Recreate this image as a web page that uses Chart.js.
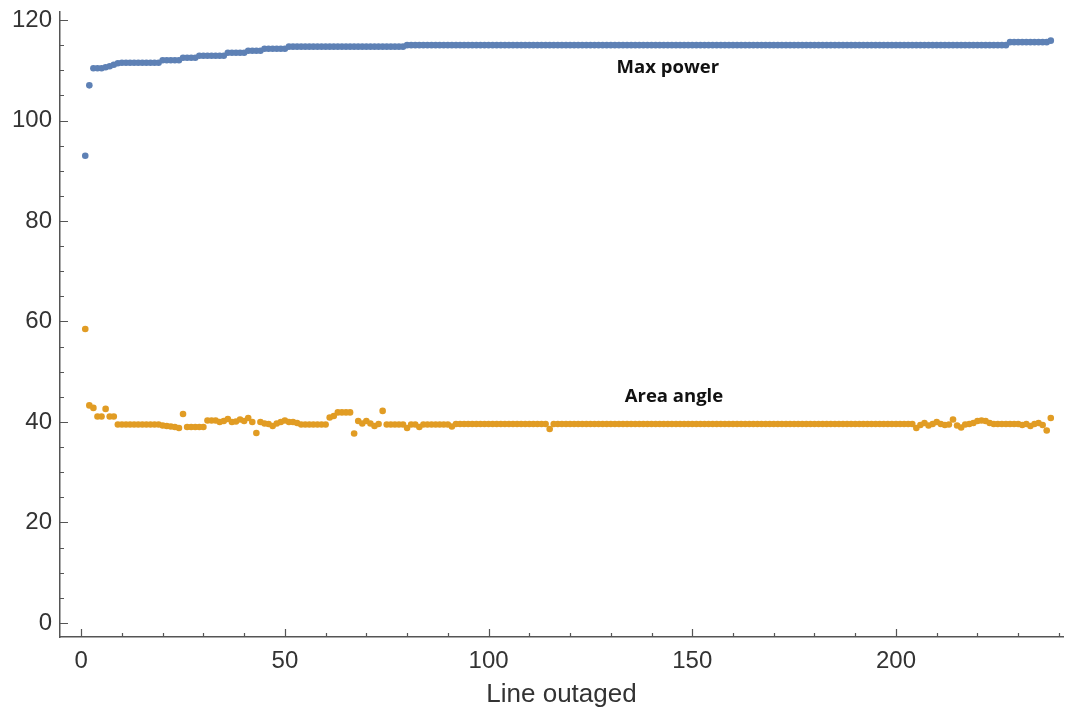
<!DOCTYPE html>
<html>
<head>
<meta charset="utf-8">
<script src="https://cdn.jsdelivr.net/npm/chart.js@4.4.1/dist/chart.umd.min.js"></script>
<style>
  html, body { margin: 0; padding: 0; background: #fff; }
  #wrap { width: 1070px; height: 714px; position: relative; }
</style>
</head>
<body>
<div id="wrap"><canvas id="outageChart" width="1070" height="714"></canvas></div>
<script>
/* ── data: one value per outaged line, x = 1..238 ── */
var maxPower = [
  93.0, 107.0, 110.4, 110.4, 110.4, 110.6, 110.8, 111.1, 111.4, 111.5,
  111.5, 111.5, 111.5, 111.5, 111.5, 111.5, 111.5, 111.5, 111.5, 112.0,
  112.0, 112.0, 112.0, 112.0, 112.5, 112.5, 112.5, 112.5, 112.9, 112.9,
  112.9, 112.9, 112.9, 112.9, 112.9, 113.5, 113.5, 113.5, 113.5, 113.5,
  113.9, 113.9, 113.9, 113.9, 114.3, 114.3, 114.3, 114.3, 114.3, 114.3,
  114.7, 114.7, 114.7, 114.7, 114.7, 114.7, 114.7, 114.7, 114.7, 114.7,
  114.7, 114.7, 114.7, 114.7, 114.7, 114.7, 114.7, 114.7, 114.7, 114.7,
  114.7, 114.7, 114.7, 114.7, 114.7, 114.7, 114.7, 114.7, 114.7, 115.0,
  115.0, 115.0, 115.0, 115.0, 115.0, 115.0, 115.0, 115.0, 115.0, 115.0,
  115.0, 115.0, 115.0, 115.0, 115.0, 115.0, 115.0, 115.0, 115.0, 115.0,
  115.0, 115.0, 115.0, 115.0, 115.0, 115.0, 115.0, 115.0, 115.0, 115.0,
  115.0, 115.0, 115.0, 115.0, 115.0, 115.0, 115.0, 115.0, 115.0, 115.0,
  115.0, 115.0, 115.0, 115.0, 115.0, 115.0, 115.0, 115.0, 115.0, 115.0,
  115.0, 115.0, 115.0, 115.0, 115.0, 115.0, 115.0, 115.0, 115.0, 115.0,
  115.0, 115.0, 115.0, 115.0, 115.0, 115.0, 115.0, 115.0, 115.0, 115.0,
  115.0, 115.0, 115.0, 115.0, 115.0, 115.0, 115.0, 115.0, 115.0, 115.0,
  115.0, 115.0, 115.0, 115.0, 115.0, 115.0, 115.0, 115.0, 115.0, 115.0,
  115.0, 115.0, 115.0, 115.0, 115.0, 115.0, 115.0, 115.0, 115.0, 115.0,
  115.0, 115.0, 115.0, 115.0, 115.0, 115.0, 115.0, 115.0, 115.0, 115.0,
  115.0, 115.0, 115.0, 115.0, 115.0, 115.0, 115.0, 115.0, 115.0, 115.0,
  115.0, 115.0, 115.0, 115.0, 115.0, 115.0, 115.0, 115.0, 115.0, 115.0,
  115.0, 115.0, 115.0, 115.0, 115.0, 115.0, 115.0, 115.0, 115.0, 115.0,
  115.0, 115.0, 115.0, 115.0, 115.0, 115.0, 115.0, 115.6, 115.6, 115.6,
  115.6, 115.6, 115.6, 115.6, 115.6, 115.6, 115.6, 115.9
];
var areaAngle = [
  58.5, 43.3, 42.8, 41.1, 41.1, 42.6, 41.1, 41.1, 39.5, 39.5,
  39.5, 39.5, 39.5, 39.5, 39.5, 39.5, 39.5, 39.5, 39.5, 39.3,
  39.2, 39.1, 39.0, 38.8, 41.6, 39.0, 39.0, 39.0, 39.0, 39.0,
  40.3, 40.3, 40.3, 40.0, 40.2, 40.6, 40.0, 40.1, 40.5, 40.2,
  40.8, 40.0, 37.8, 40.0, 39.7, 39.6, 39.2, 39.7, 40.0, 40.3,
  40.0, 40.0, 39.8, 39.5, 39.5, 39.5, 39.5, 39.5, 39.5, 39.5,
  40.9, 41.2, 41.9, 41.9, 41.9, 41.9, 37.7, 40.2, 39.7, 40.2,
  39.7, 39.2, 39.6, 42.2, 39.5, 39.5, 39.5, 39.5, 39.5, 38.8,
  39.5, 39.5, 39.0, 39.5, 39.5, 39.5, 39.5, 39.5, 39.5, 39.5,
  39.1, 39.6, 39.6, 39.6, 39.6, 39.6, 39.6, 39.6, 39.6, 39.6,
  39.6, 39.6, 39.6, 39.6, 39.6, 39.6, 39.6, 39.6, 39.6, 39.6,
  39.6, 39.6, 39.6, 39.6, 38.6, 39.6, 39.6, 39.6, 39.6, 39.6,
  39.6, 39.6, 39.6, 39.6, 39.6, 39.6, 39.6, 39.6, 39.6, 39.6,
  39.6, 39.6, 39.6, 39.6, 39.6, 39.6, 39.6, 39.6, 39.6, 39.6,
  39.6, 39.6, 39.6, 39.6, 39.6, 39.6, 39.6, 39.6, 39.6, 39.6,
  39.6, 39.6, 39.6, 39.6, 39.6, 39.6, 39.6, 39.6, 39.6, 39.6,
  39.6, 39.6, 39.6, 39.6, 39.6, 39.6, 39.6, 39.6, 39.6, 39.6,
  39.6, 39.6, 39.6, 39.6, 39.6, 39.6, 39.6, 39.6, 39.6, 39.6,
  39.6, 39.6, 39.6, 39.6, 39.6, 39.6, 39.6, 39.6, 39.6, 39.6,
  39.6, 39.6, 39.6, 39.6, 39.6, 39.6, 39.6, 39.6, 39.6, 39.6,
  39.6, 39.6, 39.6, 39.6, 38.8, 39.4, 39.8, 39.3, 39.6, 40.0,
  39.6, 39.4, 39.5, 40.5, 39.3, 38.9, 39.5, 39.6, 39.8, 40.2,
  40.3, 40.2, 39.8, 39.6, 39.6, 39.6, 39.6, 39.6, 39.6, 39.6,
  39.4, 39.6, 39.2, 39.6, 39.8, 39.4, 38.3, 40.8
];
var xTicks = [0, 50, 100, 150, 200];
var yTicks = [0, 20, 40, 60, 80, 100, 120];
var xMinorStep = 10;
var yMinorStep = 5;
var seriesLabels = [
  { text: 'Max power', x: 144, y: 110.5 },
  { text: 'Area angle', x: 145.5, y: 45 }
];

function toPoints(values) {
  return values.map(function(v, i) { return { x: i + 1, y: v }; });
}

/* ── inward ticks (Mathematica style) ── */
var innerTicks = {
  id: 'innerTicks',
  afterDraw: function(chart) {
    var c = chart.ctx, xs = chart.scales.x, ys = chart.scales.y;
    var ca = chart.chartArea;
    c.save();
    c.strokeStyle = '#555';
    c.lineWidth = 1.2;
    c.beginPath();
    for (var v = 0; v <= xs.max; v += xMinorStep) {
      var px = Math.round(xs.getPixelForValue(v)) + 0.5;
      var len = (v % 50 === 0) ? 8 : 4;
      c.moveTo(px, ca.bottom); c.lineTo(px, ca.bottom - len);
    }
    for (var w = 0; w <= ys.max; w += yMinorStep) {
      var py = Math.round(ys.getPixelForValue(w)) + 0.5;
      var l2 = (w % 20 === 0) ? 8 : 4;
      c.moveTo(ca.left, py); c.lineTo(ca.left + l2, py);
    }
    c.stroke();
    c.restore();
  }
};

/* ── text labels next to each series ── */
var seriesText = {
  id: 'seriesText',
  afterDatasetsDraw: function(chart) {
    var c = chart.ctx, xs = chart.scales.x, ys = chart.scales.y;
    c.save();
    c.fillStyle = '#111';
    c.font = 'bold 18.5px "Open Sans", sans-serif';
    c.textAlign = 'center';
    c.textBaseline = 'middle';
    seriesLabels.forEach(function(l) {
      c.fillText(l.text, xs.getPixelForValue(l.x), ys.getPixelForValue(l.y));
    });
    c.restore();
  }
};

var tickFont = { family: '"Liberation Sans", Arial, sans-serif', size: 24 };

new Chart(document.getElementById('outageChart').getContext('2d'), {
  type: 'scatter',
  data: {
    datasets: [{
      label: 'Max power',
      data: toPoints(maxPower),
      backgroundColor: '#5E81B5',
      borderColor: '#5E81B5',
      pointRadius: 3.3,
      borderWidth: 0
    }, {
      label: 'Area angle',
      data: toPoints(areaAngle),
      backgroundColor: '#E19C24',
      borderColor: '#E19C24',
      pointRadius: 3.3,
      borderWidth: 0
    }]
  },
  options: {
    responsive: false,
    animation: false,
    layout: { padding: { top: 12, right: 7, left: 0, bottom: 0 } },
    plugins: {
      legend: { display: false },
      tooltip: { enabled: false }
    },
    scales: {
      x: {
        type: 'linear',
        min: -5.2,
        max: 241,
        afterBuildTicks: function(s) { s.ticks = xTicks.map(function(v) { return { value: v }; }); },
        afterFit: function(s) { s.height = 77; s.paddingLeft = 0; s.paddingRight = 0; },
        grid: { display: false, drawTicks: false },
        border: { display: true, color: '#555', width: 1.5 },
        ticks: { color: '#333', font: tickFont, padding: 10, maxRotation: 0 },
        title: {
          display: true,
          text: 'Line outaged',
          color: '#333',
          font: { family: '"Liberation Sans", Arial, sans-serif', size: 26 },
          padding: { top: 4 }
        }
      },
      y: {
        type: 'linear',
        min: -2.8,
        max: 121.6,
        afterBuildTicks: function(s) { s.ticks = yTicks.map(function(v) { return { value: v }; }); },
        afterFit: function(s) { s.width = 60; s.paddingTop = 0; s.paddingBottom = 0; },
        grid: { display: false, drawTicks: false },
        border: { display: true, color: '#555', width: 1.5 },
        ticks: { color: '#333', font: tickFont, padding: 8 }
      }
    }
  },
  plugins: [innerTicks, seriesText]
});
</script>
</body>
</html>
